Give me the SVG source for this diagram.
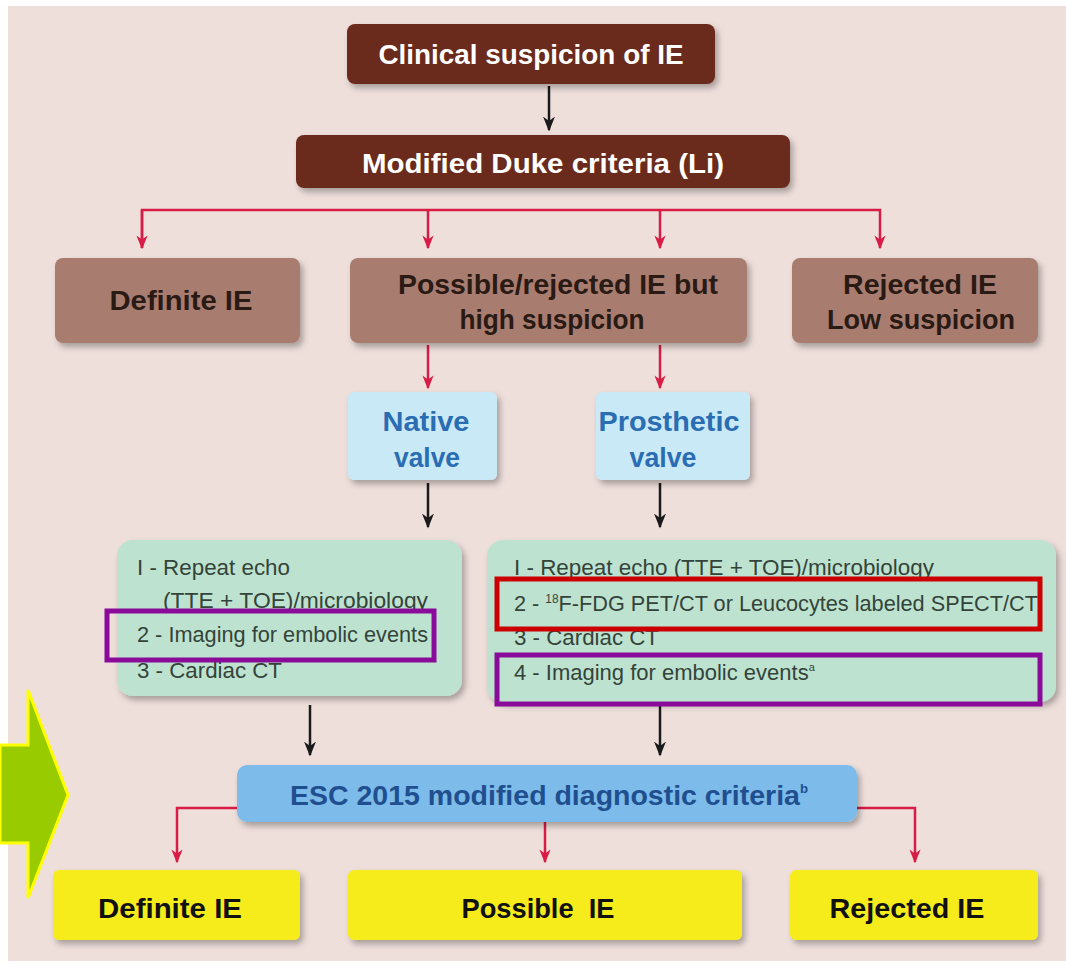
<svg xmlns="http://www.w3.org/2000/svg" width="1066" height="973" viewBox="0 0 1066 973">
<defs>
<filter id="sh" x="-10%" y="-10%" width="130%" height="140%"><feDropShadow dx="3" dy="4" stdDeviation="3" flood-color="#000" flood-opacity="0.3"/></filter>
<marker id="ar" viewBox="0 0 10 10" refX="9" refY="5" markerWidth="14" markerHeight="14" markerUnits="userSpaceOnUse" orient="auto"><path d="M0,1 L10,5 L0,9 L3,5 z" fill="#d81c45"/></marker>
<marker id="ab" viewBox="0 0 10 10" refX="9" refY="5" markerWidth="15" markerHeight="15" markerUnits="userSpaceOnUse" orient="auto"><path d="M0,1 L10,5 L0,9 L3,5 z" fill="#1a1a1a"/></marker>
<style>
.t{font-family:"Liberation Sans",Arial,sans-serif;font-weight:bold;}
.w{fill:#ffffff;font-size:28px;}
.k{fill:#2a1a14;font-size:28px;}
.b{fill:#2a6db3;font-size:28px;}
.g{font-family:"Liberation Sans",Arial,sans-serif;fill:#34433a;font-size:22px;}
.dark{fill:#6b2a1c;filter:url(#sh);}
.tan{fill:#a97c6f;filter:url(#sh);}
.lb{fill:#c9e9f7;filter:url(#sh);}
.gr{fill:#bde3d0;filter:url(#sh);}
.esc{fill:#7cbbea;filter:url(#sh);}
.yl{fill:#f6ec1c;filter:url(#sh);}
.rl{stroke:#d81c45;stroke-width:2.5;fill:none;}
.bl{stroke:#1a1a1a;stroke-width:2.5;fill:none;}
</style>
</defs>
<rect x="0" y="0" width="1066" height="973" fill="#ffffff"/>
<rect x="8" y="6" width="1058" height="955" fill="#eedfdb"/>

<g id="connectors">
<line class="bl" x1="549" y1="86" x2="549" y2="130" marker-end="url(#ab)"/>
<polyline class="rl" points="142,248 142,210 880,210 880,248" marker-end="url(#ar)"/>
<line class="rl" x1="142" y1="210" x2="142" y2="248" marker-end="url(#ar)"/>
<line class="rl" x1="428" y1="210" x2="428" y2="248" marker-end="url(#ar)"/>
<line class="rl" x1="660" y1="210" x2="660" y2="248" marker-end="url(#ar)"/>
<line class="rl" x1="428" y1="345" x2="428" y2="388" marker-end="url(#ar)"/>
<line class="rl" x1="660" y1="345" x2="660" y2="388" marker-end="url(#ar)"/>
<line class="bl" x1="428" y1="483" x2="428" y2="527" marker-end="url(#ab)"/>
<line class="bl" x1="660" y1="483" x2="660" y2="527" marker-end="url(#ab)"/>
<line class="bl" x1="310" y1="705" x2="310" y2="755" marker-end="url(#ab)"/>
<line class="bl" x1="660" y1="705" x2="660" y2="755" marker-end="url(#ab)"/>
<polyline class="rl" points="237,808 177,808 177,862" marker-end="url(#ar)"/>
<line class="rl" x1="545" y1="822" x2="545" y2="862" marker-end="url(#ar)"/>
<polyline class="rl" points="857,808 915,808 915,862" marker-end="url(#ar)"/>
</g>

<g id="n-clinical"><rect class="dark" x="347" y="24" width="368" height="60" rx="8"/>
<text class="t w" x="531" y="64" text-anchor="middle" textLength="305" lengthAdjust="spacingAndGlyphs">Clinical suspicion of IE</text></g>

<g id="n-duke"><rect class="dark" x="296" y="135" width="494" height="53" rx="8"/>
<text class="t w" x="543" y="173" text-anchor="middle" textLength="362" lengthAdjust="spacingAndGlyphs">Modified Duke criteria (Li)</text></g>

<g id="n-definite1"><rect class="tan" x="55" y="258" width="245" height="85" rx="8"/>
<text class="t k" x="181" y="310" text-anchor="middle" textLength="143" lengthAdjust="spacingAndGlyphs">Definite IE</text></g>

<g id="n-possible1"><rect class="tan" x="350" y="258" width="397" height="85" rx="8"/>
<text class="t k" x="558" y="294" text-anchor="middle" textLength="320" lengthAdjust="spacingAndGlyphs">Possible/rejected IE but</text>
<text class="t k" x="552" y="329" text-anchor="middle" textLength="185" lengthAdjust="spacingAndGlyphs">high suspicion</text></g>

<g id="n-rejected1"><rect class="tan" x="792" y="258" width="246" height="85" rx="8"/>
<text class="t k" x="920" y="294" text-anchor="middle" textLength="154" lengthAdjust="spacingAndGlyphs">Rejected IE</text>
<text class="t k" x="921" y="329" text-anchor="middle" textLength="188" lengthAdjust="spacingAndGlyphs">Low suspicion</text></g>

<g id="n-native"><rect class="lb" x="348" y="392" width="149" height="88" rx="6"/>
<text class="t b" x="426" y="431" text-anchor="middle" textLength="87" lengthAdjust="spacingAndGlyphs">Native</text>
<text class="t b" x="427" y="467" text-anchor="middle" textLength="66" lengthAdjust="spacingAndGlyphs">valve</text></g>

<g id="n-prosthetic"><rect class="lb" x="596" y="392" width="154" height="88" rx="6"/>
<text class="t b" x="669" y="431" text-anchor="middle" textLength="141" lengthAdjust="spacingAndGlyphs">Prosthetic</text>
<text class="t b" x="663" y="467" text-anchor="middle" textLength="67" lengthAdjust="spacingAndGlyphs">valve</text></g>

<g id="n-native-steps"><rect class="gr" x="117" y="540" width="345" height="156" rx="16"/>
<text class="g" x="137" y="575" textLength="153" lengthAdjust="spacingAndGlyphs">I - Repeat echo</text>
<text class="g" x="163" y="608" textLength="265" lengthAdjust="spacingAndGlyphs">(TTE + TOE)/microbiology</text>
<text class="g" x="137" y="642" textLength="291" lengthAdjust="spacingAndGlyphs">2 - Imaging for embolic events</text>
<text class="g" x="137" y="678" textLength="145" lengthAdjust="spacingAndGlyphs">3 - Cardiac CT</text>
<rect x="107" y="611" width="327" height="49" fill="none" stroke="#8a0a9a" stroke-width="5"/></g>

<g id="n-prosthetic-steps"><rect class="gr" x="487" y="540" width="569" height="162" rx="16"/>
<text class="g" x="514" y="575" textLength="420" lengthAdjust="spacingAndGlyphs">I - Repeat echo (TTE + TOE)/microbiology</text>
<text class="g" x="514" y="611" textLength="524" lengthAdjust="spacingAndGlyphs">2 - <tspan font-size="12" dy="-8">18</tspan><tspan dy="8">F-FDG PET/CT or Leucocytes labeled SPECT/CT</tspan></text>
<text class="g" x="514" y="645" textLength="145" lengthAdjust="spacingAndGlyphs">3 - Cardiac CT</text>
<text class="g" x="514" y="680">4 - Imaging for embolic events<tspan font-size="11" dy="-9">a</tspan></text>
<rect x="497" y="579" width="543" height="50" fill="none" stroke="#cc0000" stroke-width="5"/>
<rect x="497" y="655" width="543" height="49" fill="none" stroke="#8a0a9a" stroke-width="5"/></g>

<g id="n-esc"><rect class="esc" x="237" y="765" width="620" height="57" rx="10"/>
<text class="t" x="290" y="805" fill="#1f4f8f" font-size="28" textLength="518" lengthAdjust="spacingAndGlyphs">ESC 2015 modified diagnostic criteria<tspan font-size="13" dy="-12">b</tspan></text></g>

<g id="n-definite2"><rect class="yl" x="53" y="870" width="247" height="70" rx="6"/>
<text class="t" x="170" y="918" text-anchor="middle" fill="#111" font-size="28" textLength="144" lengthAdjust="spacingAndGlyphs">Definite IE</text></g>

<g id="n-possible2"><rect class="yl" x="348" y="870" width="394" height="70" rx="6"/>
<text class="t" x="538" y="918" text-anchor="middle" fill="#111" font-size="28" textLength="153" lengthAdjust="spacingAndGlyphs" xml:space="preserve">Possible  IE</text></g>

<g id="n-rejected2"><rect class="yl" x="790" y="870" width="248" height="70" rx="6"/>
<text class="t" x="907" y="918" text-anchor="middle" fill="#111" font-size="28" textLength="155" lengthAdjust="spacingAndGlyphs">Rejected IE</text></g>

<g id="green-arrow"><polygon points="0,745 28,745 28,690 68,795 28,898 28,843 0,843" fill="#99cc00" stroke="#ffff00" stroke-width="3"/></g>
</svg>
